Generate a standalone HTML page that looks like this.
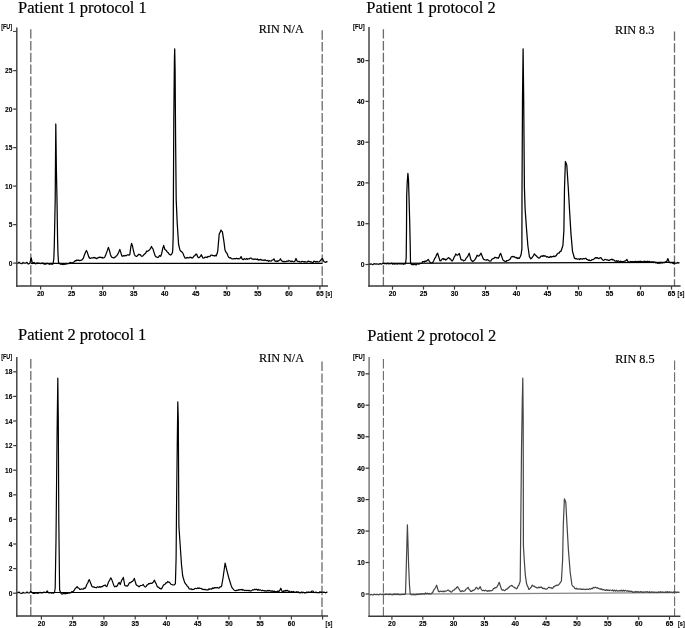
<!DOCTYPE html><html><head><meta charset="utf-8"><style>
html,body{margin:0;padding:0;background:#fff;width:685px;height:628px;overflow:hidden}
svg{display:block;will-change:transform}
.t{font-family:"Liberation Serif",serif;fill:#000;stroke:#000;stroke-width:0.18px}
.l{font-family:"Liberation Sans",sans-serif;font-weight:bold;fill:#000;stroke:#000;stroke-width:0.12px}
</style></head><body>
<svg width="685" height="628" viewBox="0 0 685 628">
<g><text class="t" x="18.1" y="12.6" font-size="16.5" textLength="128.6" lengthAdjust="spacing">Patient 1 protocol 1</text><text class="t" transform="translate(258.7 32.5) scale(1 1.06)" font-size="12.2">RIN N/A</text><line x1="30.8" y1="29.2" x2="30.8" y2="286" stroke="#6a6a6a" stroke-width="1.3" stroke-dasharray="9.4 2.4"/><line x1="322.2" y1="30.3" x2="322.2" y2="286" stroke="#6a6a6a" stroke-width="1.3" stroke-dasharray="9.4 2.4"/><line x1="30.8" y1="263.4" x2="322.2" y2="263.4" stroke="#000" stroke-width="1.15"/><polyline points="17,263.5 18,263.2 19,262.2 20,263.2 21,263.5 22,263.5 23,262.5 24,263.2 25,263.2 26,263.1 27,262.3 28,263.8 29,263.8 30,263 30.8,259 31.3,258 31.8,261 32.5,263.5 33.2,263.2 34,262.5 34.8,263.5 35.5,263.8 36.2,263.7 37,262.8 38,263.5 39,263.1 40,263.5 41,263.6 42,263 43,263 44,264 45,264 46,264 47,263.2 48,263.8 49,264 50,264.3 51,263.5 52,264.3 53,264 53.8,259 54.3,245 55.2,200 55.8,124 56.4,170 57,200 57.6,240 58,254 58.5,262 59.3,263.6 60,263.6 60.8,264.3 61.5,263.8 62.3,264.5 63.2,264.6 64,264 64.9,264.4 65.8,263.9 66.7,264 67.6,263.5 68.5,263.6 69.3,263.3 70.2,262.4 71,262.8 71.7,262.9 72.6,262.9 73.4,262.2 74.3,261.8 75.2,260.7 76.1,260.8 76.9,260 77.8,260.4 78.7,260.1 79.7,260.7 80.7,260.4 81.6,260.2 82.5,259.3 83.4,258.1 84.2,255.5 85.4,252.6 86.4,250.5 87.4,252.6 88.6,256.4 89.5,258.1 90.5,258.4 91.5,257.8 92.4,258 93.3,257.5 94.1,258 94.8,257.4 95.6,258.1 96.5,258.6 97.4,258.1 98.8,257.4 100,257.1 101,257.7 102,257.3 102.8,258 103.5,257.8 104.2,257.6 104.9,256.8 105.9,254.4 107.2,250.9 108.4,247.4 109.4,250.4 110.4,254.4 111.4,256.8 112.2,257.5 112.9,257.6 113.7,257.9 114.4,257.6 115.2,257.1 115.9,256.3 116.8,255.8 117.6,254.4 118.8,251.9 119.8,249.4 120.8,252.4 121.8,255.9 122.6,256.3 123.8,255.6 124.8,255.8 125.8,255.4 126.5,255.6 127.3,254.9 128,254.9 128.9,255.1 129.8,254.6 130.8,247.2 131.6,243.4 132.6,246.5 133.3,250 134.3,254.2 135.2,255.8 136.1,256.3 136.8,256.4 137.5,255.6 138.2,255.1 138.9,254.2 139.6,254.6 140.3,254.6 141.2,256 142,256.3 142.9,255.9 143.8,254.8 145.2,253.5 145.9,252.8 146.6,251.1 147.4,251.3 148.3,250.9 149.7,249.7 150.6,248.3 151.5,246.5 152.2,248 152.9,248.6 153.9,252.1 155,255.3 155.8,256.6 156.7,257 157.4,257.5 158.1,257.4 158.8,256.7 159.5,255.6 160.6,256.3 161.6,253.9 162.7,248.6 163.7,245.5 164.8,249.3 166.2,250.4 167.2,251.9 168.3,252.8 169.2,254.2 170,254.6 170.7,255 171.4,254.4 172.5,252.5 172.8,248.6 173.2,236 173.8,120 174.4,60 174.7,48.8 175.1,70 175.6,140 176.2,200 177.2,223 178.6,244.5 180,250.2 181,251.4 181.9,251.9 182.9,253.1 183.9,255.8 185,258.1 186,258.2 187,257.4 188,257.8 188.9,257.9 189.9,257.2 190.8,257.4 192.2,258.1 193.1,257.4 194,256 194.9,255.6 195.7,254.3 196.6,254.1 197.3,255.9 198,257.3 198.7,257.8 199.4,257.4 200.4,256.3 201.4,254.7 202.2,256.7 203.1,258.1 204.1,258 205,257.2 206,257.2 207,257.5 208,256.3 209,256.6 210,256.4 210.9,255.1 211.9,255.1 212.9,255.6 214,255.6 214.8,256 215.5,255.3 216.3,255.9 217.7,251.5 219.2,234 220.1,232.4 221,230 221.7,231.1 222.4,231.8 223.9,241.3 225,250 226.1,252.4 227.2,253.7 227.9,255.7 228.7,257.3 229.6,257.9 230.5,257.6 231.4,258.7 232.3,258.8 233.2,259 234.1,258.5 235,258.6 235.8,258.8 236.6,258.2 237.4,258.8 238.2,258.5 239.1,258.9 240,258.5 241.1,256.6 241.8,258.4 242.6,259.5 243.4,259.7 244.2,258.6 245,259 245.8,259.3 246.7,258.5 247.6,259.3 248.4,258.8 249.4,258.8 250.3,258.1 251.3,258.1 252.2,259.1 253,259 253.9,259.5 254.8,258.9 255.7,259.2 256.5,259.5 257.4,259 258.2,260 259,259.6 260,259.9 261,259.3 262,260.4 263,260 264,260.5 265,259.9 266,260.3 266.9,260.6 267.7,260.4 268.6,261.3 269.4,260.6 270.3,261 271.2,261.1 272.1,260.1 273,260 273.9,258.8 275,261 275.9,261.6 276.7,260.9 277.6,261.4 279,260.5 279.8,259.9 280.5,258.8 281.2,260.1 282,261 283,261.7 283.9,261.3 284.9,261.7 285.9,261.6 287,261 288,261.4 289,260.5 290,261 291,261.6 292,261.1 293,261.5 294,261.8 295,261 296,258.5 297,261 298,261.5 299,261.4 300,261.8 301,262 302,261.3 303,261.5 304,261.9 305,261.6 306,262 307,262.1 308,261.1 309,261.3 310,261.8 311,261.7 312,262.3 313,262.5 314,261.2 315,261.5 316,262.1 317,261.4 318,262 319,261.9 320,261 320.8,260.2 321.5,259 322.5,258.5 323.5,261 324.2,261.8 325,262.2 325.8,262.3 326.7,261.6 327.5,262" fill="none" stroke="#000" stroke-width="1.25" stroke-linejoin="round"/><path d="M16.8 27.5V286.7" fill="none" stroke="#3a3a3a" stroke-width="1.4"/><path d="M16.1 286H328" fill="none" stroke="#3a3a3a" stroke-width="1.4"/><line x1="13.2" y1="263.1" x2="16.8" y2="263.1" stroke="#3a3a3a" stroke-width="1.25"/><text class="l" x="12.4" y="265.7" font-size="6.6" text-anchor="end">0</text><line x1="13.2" y1="224.6" x2="16.8" y2="224.6" stroke="#3a3a3a" stroke-width="1.25"/><text class="l" x="12.4" y="227.2" font-size="6.6" text-anchor="end">5</text><line x1="13.2" y1="186.1" x2="16.8" y2="186.1" stroke="#3a3a3a" stroke-width="1.25"/><text class="l" x="12.4" y="188.7" font-size="6.6" text-anchor="end">10</text><line x1="13.2" y1="147.6" x2="16.8" y2="147.6" stroke="#3a3a3a" stroke-width="1.25"/><text class="l" x="12.4" y="150.2" font-size="6.6" text-anchor="end">15</text><line x1="13.2" y1="109.1" x2="16.8" y2="109.1" stroke="#3a3a3a" stroke-width="1.25"/><text class="l" x="12.4" y="111.7" font-size="6.6" text-anchor="end">20</text><line x1="13.2" y1="70.6" x2="16.8" y2="70.6" stroke="#3a3a3a" stroke-width="1.25"/><text class="l" x="12.4" y="73.2" font-size="6.6" text-anchor="end">25</text><line x1="13" y1="31.4" x2="16.8" y2="31.4" stroke="#3a3a3a" stroke-width="1"/><text class="l" x="1.2" y="28.5" font-size="7" textLength="10.8" lengthAdjust="spacingAndGlyphs">[FU]</text><line x1="40.6" y1="286" x2="40.6" y2="289.6" stroke="#3a3a3a" stroke-width="1.2"/><line x1="71.6" y1="286" x2="71.6" y2="289.6" stroke="#3a3a3a" stroke-width="1.2"/><line x1="102.7" y1="286" x2="102.7" y2="289.6" stroke="#3a3a3a" stroke-width="1.2"/><line x1="133.7" y1="286" x2="133.7" y2="289.6" stroke="#3a3a3a" stroke-width="1.2"/><line x1="164.7" y1="286" x2="164.7" y2="289.6" stroke="#3a3a3a" stroke-width="1.2"/><line x1="195.8" y1="286" x2="195.8" y2="289.6" stroke="#3a3a3a" stroke-width="1.2"/><line x1="226.8" y1="286" x2="226.8" y2="289.6" stroke="#3a3a3a" stroke-width="1.2"/><line x1="257.8" y1="286" x2="257.8" y2="289.6" stroke="#3a3a3a" stroke-width="1.2"/><line x1="288.9" y1="286" x2="288.9" y2="289.6" stroke="#3a3a3a" stroke-width="1.2"/><line x1="319.9" y1="286" x2="319.9" y2="289.6" stroke="#3a3a3a" stroke-width="1.2"/><text class="l" x="40.6" y="296" font-size="6.6" text-anchor="middle">20</text><text class="l" x="71.6" y="296" font-size="6.6" text-anchor="middle">25</text><text class="l" x="102.7" y="296" font-size="6.6" text-anchor="middle">30</text><text class="l" x="133.7" y="296" font-size="6.6" text-anchor="middle">35</text><text class="l" x="164.7" y="296" font-size="6.6" text-anchor="middle">40</text><text class="l" x="195.8" y="296" font-size="6.6" text-anchor="middle">45</text><text class="l" x="226.8" y="296" font-size="6.6" text-anchor="middle">50</text><text class="l" x="257.8" y="296" font-size="6.6" text-anchor="middle">55</text><text class="l" x="288.9" y="296" font-size="6.6" text-anchor="middle">60</text><text class="l" x="319.9" y="296" font-size="6.6" text-anchor="middle">65</text><text class="l" x="325.4" y="296.2" font-size="7" font-weight="normal" textLength="6.8" lengthAdjust="spacingAndGlyphs">[s]</text></g>
<g><text class="t" x="366.3" y="12.6" font-size="16.5" textLength="129.5" lengthAdjust="spacing">Patient 1 protocol 2</text><text class="t" transform="translate(615 34) scale(1 1.07)" font-size="12.2">RIN 8.3</text><line x1="383.4" y1="29.2" x2="383.4" y2="286" stroke="#6a6a6a" stroke-width="1.3" stroke-dasharray="9.4 2.4"/><line x1="674.5" y1="31.4" x2="674.5" y2="286" stroke="#6a6a6a" stroke-width="1.3" stroke-dasharray="9.4 2.4"/><line x1="383.4" y1="263.3" x2="674.5" y2="262.4" stroke="#000" stroke-width="1.15"/><polyline points="369,264 370,264.4 371,263.8 372,264.3 373,264.7 374,263.6 375,263.8 376,264.3 377,263.7 378,264.2 379,264.3 380,263.6 381,263.9 381.8,264.1 382.7,263.1 383.5,263.4 384.3,263.7 385.2,263.3 386,263.6 387,263.8 388,263.1 389,264 390,263.5 390.8,263.7 391.7,263.1 392.5,264.2 393.3,263.3 394.2,264.2 395,263.8 395.8,264 396.7,263.6 397.5,264.1 398.3,263.5 399.2,263.9 400,263.6 401,264 402,263.7 403,264 403.8,264.3 404.7,263.5 405.5,263.8 406.2,258 406.5,230 406.7,195 407.2,183 407.9,173.4 408.5,180 409.1,200 409.7,222 410.2,245 410.5,262 411.1,264 412.1,264.7 413,264.4 413.8,264.8 414.7,264.1 415.5,264.6 416.3,264.8 417.2,263.8 418,264 418.9,264.2 419.9,263.4 420.8,263.5 421.7,263.4 422.5,261.7 423.4,261.6 424.3,262 425.1,261 426,261.3 427.1,260.6 428.2,259.4 429.3,261.3 430.4,262.7 431.5,263 432.6,262.7 433.7,260.7 434.8,258.3 435.7,257.1 436.7,254.6 437.6,253.2 440,260.9 441,260.6 442.1,259 443.1,258.5 444,259.5 444.8,259 445.7,260 446.7,259.4 447.8,258.2 448.8,257.6 449.7,258.9 450.6,258.9 451.4,260.6 452.3,260.9 453.2,259.5 454.1,257.2 454.9,256.1 455.8,253.9 456.6,255 457.5,255.2 458.4,254.6 459.3,253.5 461,259.6 461.9,260 462.7,259.8 463.5,260.8 464.4,260.5 465.3,259.9 466.1,258.2 467,257.4 468.1,255.6 469.2,253.2 470.9,259.6 471.8,260.8 472.7,261.6 473.8,260.8 474.9,259.6 476,257.9 477.1,255.2 478,255.9 478.8,256.1 479.9,255 481,253.2 483.2,258.7 484.3,259.7 485.4,260 486.3,260.2 487.1,259.6 488,260 489.1,260.8 490.2,261.2 491.1,260.8 491.9,259.3 492.8,258.7 493.9,258.3 495,257.2 496,257.8 497.1,257.7 498.1,258.3 499,257.2 499.8,254.6 500.7,253.5 502.9,259.9 504,260.9 505.1,261.3 506,261.5 506.8,260.5 507.7,260.5 508.5,260.4 509.3,259.6 510.3,259 511.2,257.1 512.2,256.4 513.1,256.9 514.1,256.5 515,257.4 515.9,257.8 516.7,257.5 517.6,258.5 518.4,257.9 519.3,258.4 520.2,256.8 521.1,254.6 521.9,248.8 522,191.5 522.5,100 523.1,48.8 523.7,100 524.4,187.2 525.1,208.7 526.5,228.7 527.9,246 529.4,256.7 530.8,258.9 531.5,258.3 532.2,257.4 533.3,255.8 534.4,253.8 535.5,255.3 536.5,256 537.6,257.3 538.7,258.1 539.7,257.8 540.6,256.4 541.6,256 542.4,256.4 543.2,255.5 544.1,256.4 544.9,255.7 545.7,256.1 546.7,257 547.6,256.7 548.6,257.4 549.5,257.4 550.3,256.4 551.1,257.2 552,256.5 552.8,256.7 553.6,256.1 554.5,256.6 555.3,256.1 556.3,255.7 557.2,253.9 558.2,253.2 559.1,253.1 560.1,251.4 561,251.3 562.9,245.5 563.9,230.3 564.5,188.2 565.4,161.5 566.8,165.3 568.3,188.2 569.6,211.2 571,234.1 572.5,251.3 574.4,258 575.3,258.8 576.1,258.4 577,259.1 577.9,259.2 578.8,258.8 579.6,259.5 580.5,258.6 581.4,258.8 582.4,259.2 583.4,258.5 584.4,258.8 585.8,258.2 586.6,259.3 587.5,259.5 588.4,260.3 589.2,260 590.1,260.7 591.1,260.5 592.2,259.5 593.2,259.5 594.3,258.7 595.4,257.6 596.3,258.1 597.1,257.6 598,258.2 599,258.6 600.1,257.6 601.1,257.9 602,259.2 602.8,260 603.8,260.4 604.9,259.4 605.9,259.5 606.8,260 607.6,259.8 608.5,260.4 609.4,260.4 610.2,259.6 611.1,259.7 612,259.1 612.9,260 613.8,259.8 614.7,260.8 615.6,261.1 616.4,260.7 617.3,261.6 618.1,260.7 619,261.3 619.9,261.8 620.8,261.1 621.6,262 622.5,261.7 623.3,261.8 624.2,261.2 625,261.2 626,260.5 626.9,259.5 627.8,261.3 628.7,262.1 629.6,262.5 630.4,261.4 631.2,262 632.1,261.4 632.9,262 633.8,261.6 634.7,262 635.5,261.3 636.4,262.1 637.3,261.4 638.1,262 639,261.2 639.9,262.1 640.8,261.2 641.6,262 642.5,261.6 643.4,262.1 644.3,261.1 645.1,262 646,261.3 646.9,262.2 647.8,261.2 648.7,262.1 649.5,261.3 650.4,262.3 651.3,261.8 652.2,262.3 653,261.7 653.9,262.6 654.8,262 655.7,262.9 656.5,262.5 657.4,263.3 658.3,263 659.2,263.5 660,262.3 660.9,263.2 661.8,262.4 662.6,263 663.5,262.5 664.5,262.7 665.5,261.8 666.5,262 667.9,258.6 669.2,262.1 670.2,262.9 671.3,262.5 672.3,263 673.2,263.5 674,262.8 674.9,263.4 675.8,263 676.7,263.2 677.6,262.5 678.6,263.1 679.5,262.5" fill="none" stroke="#000" stroke-width="1.25" stroke-linejoin="round"/><path d="M369 27V286.7" fill="none" stroke="#3a3a3a" stroke-width="1.4"/><path d="M368.3 286H680.6" fill="none" stroke="#3a3a3a" stroke-width="1.4"/><line x1="365.4" y1="264.5" x2="369" y2="264.5" stroke="#3a3a3a" stroke-width="1.25"/><text class="l" x="364.6" y="267.1" font-size="6.8" text-anchor="end">0</text><line x1="365.4" y1="223.7" x2="369" y2="223.7" stroke="#3a3a3a" stroke-width="1.25"/><text class="l" x="364.6" y="226.3" font-size="6.8" text-anchor="end">10</text><line x1="365.4" y1="182.9" x2="369" y2="182.9" stroke="#3a3a3a" stroke-width="1.25"/><text class="l" x="364.6" y="185.5" font-size="6.8" text-anchor="end">20</text><line x1="365.4" y1="142.2" x2="369" y2="142.2" stroke="#3a3a3a" stroke-width="1.25"/><text class="l" x="364.6" y="144.8" font-size="6.8" text-anchor="end">30</text><line x1="365.4" y1="101.4" x2="369" y2="101.4" stroke="#3a3a3a" stroke-width="1.25"/><text class="l" x="364.6" y="104" font-size="6.8" text-anchor="end">40</text><line x1="365.4" y1="60.6" x2="369" y2="60.6" stroke="#3a3a3a" stroke-width="1.25"/><text class="l" x="364.6" y="63.2" font-size="6.8" text-anchor="end">50</text><text class="l" x="353" y="29.3" font-size="7" textLength="11.6" lengthAdjust="spacingAndGlyphs">[FU]</text><line x1="392.5" y1="286" x2="392.5" y2="289.6" stroke="#3a3a3a" stroke-width="1.2"/><line x1="423.5" y1="286" x2="423.5" y2="289.6" stroke="#3a3a3a" stroke-width="1.2"/><line x1="454.5" y1="286" x2="454.5" y2="289.6" stroke="#3a3a3a" stroke-width="1.2"/><line x1="485.5" y1="286" x2="485.5" y2="289.6" stroke="#3a3a3a" stroke-width="1.2"/><line x1="516.5" y1="286" x2="516.5" y2="289.6" stroke="#3a3a3a" stroke-width="1.2"/><line x1="547.5" y1="286" x2="547.5" y2="289.6" stroke="#3a3a3a" stroke-width="1.2"/><line x1="578.5" y1="286" x2="578.5" y2="289.6" stroke="#3a3a3a" stroke-width="1.2"/><line x1="609.5" y1="286" x2="609.5" y2="289.6" stroke="#3a3a3a" stroke-width="1.2"/><line x1="640.5" y1="286" x2="640.5" y2="289.6" stroke="#3a3a3a" stroke-width="1.2"/><line x1="671.5" y1="286" x2="671.5" y2="289.6" stroke="#3a3a3a" stroke-width="1.2"/><text class="l" x="392.5" y="296" font-size="6.8" text-anchor="middle">20</text><text class="l" x="423.5" y="296" font-size="6.8" text-anchor="middle">25</text><text class="l" x="454.5" y="296" font-size="6.8" text-anchor="middle">30</text><text class="l" x="485.5" y="296" font-size="6.8" text-anchor="middle">35</text><text class="l" x="516.5" y="296" font-size="6.8" text-anchor="middle">40</text><text class="l" x="547.5" y="296" font-size="6.8" text-anchor="middle">45</text><text class="l" x="578.5" y="296" font-size="6.8" text-anchor="middle">50</text><text class="l" x="609.5" y="296" font-size="6.8" text-anchor="middle">55</text><text class="l" x="640.5" y="296" font-size="6.8" text-anchor="middle">60</text><text class="l" x="671.5" y="296" font-size="6.8" text-anchor="middle">65</text><text class="l" x="677.6" y="296.2" font-size="7" font-weight="normal" textLength="6.8" lengthAdjust="spacingAndGlyphs">[s]</text></g>
<g><text class="t" x="18.1" y="340.3" font-size="16.5" textLength="128.2" lengthAdjust="spacing">Patient 2 protocol 1</text><text class="t" transform="translate(259 362.2) scale(1 1.06)" font-size="12.2">RIN N/A</text><line x1="30.8" y1="359.1" x2="30.8" y2="616" stroke="#6a6a6a" stroke-width="1.3" stroke-dasharray="9.4 2.4"/><line x1="322" y1="361.6" x2="322" y2="616" stroke="#6a6a6a" stroke-width="1.3" stroke-dasharray="9.4 2.4"/><line x1="30.8" y1="592.5" x2="322" y2="592.5" stroke="#000" stroke-width="1.15"/><polyline points="17,592.8 18,592.7 19,592 20,593 21,593.3 22,593.3 23,592.3 24,593 25,593 26,592.9 27,592 28,592.9 29,593 29.9,592.4 30.7,591.4 32,592.5 33,593.3 34,593.3 35,593.3 36,592.5 37,593.4 38,593.3 39,593 40,592.3 41,592.9 42,593 43,592.7 44,592 45,592.6 46,592.3 47.3,591 48.1,592.4 49,593 50,592.9 51,592.5 51.8,593.2 52.6,592.8 53.5,593.2 54.5,592.5 55.2,588 56,540 57,440 57.8,378 58.3,420 58.8,520 59.6,590 60.5,592.3 61.3,593.7 62.2,594.1 63.1,593.4 64.1,593.7 65,593.5 65.8,593.8 66.7,593.1 67.5,593.4 68.4,592.8 69.2,593.1 70.1,592.8 71,592.7 71.8,591.6 72.7,591.9 73.6,591 74.5,589.9 75.5,588 76.3,587.7 77.1,586.6 78,587.9 78.8,588 79.7,589.3 80.5,589.5 81.2,588.8 82,589 83,589.3 84,588.1 85,588.4 86,586.7 87,584 87.8,583 88.5,580.8 89.3,579.6 91,584 92,586.6 92.9,587.1 93.8,586.8 94.6,587.5 95.5,587.5 96.3,587.8 97.2,586.8 98,587 98.9,587.4 99.8,586.5 100.7,587.2 101.6,586.6 102.5,586.7 103.3,585.6 104.2,585.6 105.1,584.9 106,586.3 106.9,586.6 108.5,582 109.6,580.3 110.7,577.9 111.5,578.9 114.1,586.1 114.9,586.8 115.8,586.1 116.6,586.6 117.5,585.4 118.3,583.5 119.2,582.5 120.2,584.5 121.8,579.9 122.5,579.1 123.3,577.4 124.8,585.5 125.7,586 126.5,585.7 127.4,586.1 128.2,585.2 129.1,583.2 129.9,582.5 130.8,582.6 131.6,581.6 132.5,581.5 133.4,580.2 134.3,578.4 136.1,584.5 136.9,585.4 137.8,585.7 138.6,586.6 139.4,586.7 140.2,585.6 141,585.5 142.1,585.4 143.2,584.5 144.2,586.1 145.3,587.1 146.2,586.4 147.1,584.9 147.9,584.6 148.8,583.5 149.7,583.8 150.6,583 151.5,583.5 152.4,583 153.4,581.8 154.5,580.2 155.3,582.4 156.2,583.6 157,586.1 157.8,587.2 158.6,587 159.5,588.4 160.3,588.3 161.1,589.1 162.1,587.9 163.2,585.5 164.2,584.5 165.1,584.2 165.9,582.8 166.8,582.8 167.7,581.5 168.5,582.2 169.2,582.2 170,583 170.9,584.2 171.8,584.5 172.8,585 173.8,585 174.6,584.6 175.4,583.7 176.1,558.2 176.6,500 177.3,440 177.8,401.8 178.3,420 178.9,526.4 180.2,545.5 181.5,564.6 182.7,576 184.6,582.4 185.6,583.9 186.6,585 187.4,586.5 188.3,587.1 189.1,588.8 190.1,589.2 191,588.7 191.9,589.6 192.9,589.4 193.9,589.4 195,588.3 196,588.5 196.8,588.7 197.7,587.8 198.5,588.5 199.3,587.9 200.2,588.5 201.2,588.3 202.2,589.4 203.1,589.2 204.1,589.8 205,589.2 205.9,589.9 206.9,589.8 207.9,590 208.9,588.8 209.8,589.3 210.8,588.8 211.7,589.1 212.5,587.9 213.4,588.5 214.2,587.6 215.1,587.9 215.9,587.5 216.7,587.9 217.6,587.4 218.4,588.2 219.2,588 220,586.8 220.8,587 221.6,586.2 223.1,577.5 225.1,563 226.6,569.3 228.7,577.5 231.2,585.7 232.2,587.9 233.3,589.2 234.3,590.3 235.3,590.6 236.2,590.7 237,590 237.9,590.5 238.7,589.7 239.6,589.9 240.4,589.5 241.2,590 242.1,589.3 242.9,590.3 243.8,589.8 244.7,590.7 245.5,590.3 246.4,590.6 247.2,590.3 248.1,590.8 249,590.3 249.8,590.9 250.7,590.8 251.7,590.6 252.7,589.7 253.7,590 254.7,589.2 255.6,589.6 256.5,589.2 257.4,590.2 258.2,589.3 259.1,590.4 260,589.7 260.9,590.3 261.8,590.8 262.6,590.2 263.4,590.7 264.3,590.5 265.1,591.2 266,590.8 266.9,591.2 267.7,590.3 268.6,591 269.4,590.4 270.2,591.2 271.1,590.8 272,591.4 272.8,590.8 273.6,591.7 274.5,591.1 275.4,591.8 276.2,591.6 277,591.9 277.9,590.8 278.7,591.6 279.5,591 280.8,588.2 281.6,590.3 282.3,591.6 283.1,591.9 284,590.6 284.9,591.3 285.7,590.3 286.5,591 287.4,590.3 288.3,591.3 289.1,591 290,591.8 290.8,592.3 291.7,591.4 292.5,592.3 293.3,591.5 294.2,592.3 295,592 295.8,592.4 296.7,591.7 297.5,592.3 298.3,591.8 299.2,592.8 300,592.3 300.8,592.9 301.7,592 302.5,592.8 303.3,592.1 304.2,592.9 305,592.6 305.8,592.9 306.7,592 307.5,592.6 308.3,591.9 309.2,592.4 310,592.2 311,592.2 312,591 313,591 314,592.3 315,592.6 316,592 317,592.8 318,592.5 319,592.8 320,591.7 321,592.4 322,592 323,592.3 324,592.1 325,592.5 325.8,592.9 326.6,592.1 327.4,592.3" fill="none" stroke="#000" stroke-width="1.2" stroke-linejoin="round"/><path d="M16.8 357.1V616.7" fill="none" stroke="#3a3a3a" stroke-width="1.4"/><path d="M16.1 616H328" fill="none" stroke="#3a3a3a" stroke-width="1.4"/><line x1="13.2" y1="593.2" x2="16.8" y2="593.2" stroke="#3a3a3a" stroke-width="1.25"/><text class="l" x="12.4" y="595.8" font-size="6.6" text-anchor="end">0</text><line x1="13.2" y1="568.6" x2="16.8" y2="568.6" stroke="#3a3a3a" stroke-width="1.25"/><text class="l" x="12.4" y="571.2" font-size="6.6" text-anchor="end">2</text><line x1="13.2" y1="544" x2="16.8" y2="544" stroke="#3a3a3a" stroke-width="1.25"/><text class="l" x="12.4" y="546.6" font-size="6.6" text-anchor="end">4</text><line x1="13.2" y1="519.4" x2="16.8" y2="519.4" stroke="#3a3a3a" stroke-width="1.25"/><text class="l" x="12.4" y="522" font-size="6.6" text-anchor="end">6</text><line x1="13.2" y1="494.8" x2="16.8" y2="494.8" stroke="#3a3a3a" stroke-width="1.25"/><text class="l" x="12.4" y="497.4" font-size="6.6" text-anchor="end">8</text><line x1="13.2" y1="470.2" x2="16.8" y2="470.2" stroke="#3a3a3a" stroke-width="1.25"/><text class="l" x="12.4" y="472.8" font-size="6.6" text-anchor="end">10</text><line x1="13.2" y1="445.6" x2="16.8" y2="445.6" stroke="#3a3a3a" stroke-width="1.25"/><text class="l" x="12.4" y="448.2" font-size="6.6" text-anchor="end">12</text><line x1="13.2" y1="421" x2="16.8" y2="421" stroke="#3a3a3a" stroke-width="1.25"/><text class="l" x="12.4" y="423.6" font-size="6.6" text-anchor="end">14</text><line x1="13.2" y1="396.4" x2="16.8" y2="396.4" stroke="#3a3a3a" stroke-width="1.25"/><text class="l" x="12.4" y="399" font-size="6.6" text-anchor="end">16</text><line x1="13.2" y1="371.8" x2="16.8" y2="371.8" stroke="#3a3a3a" stroke-width="1.25"/><text class="l" x="12.4" y="374.4" font-size="6.6" text-anchor="end">18</text><text class="l" x="1.2" y="358.8" font-size="7" textLength="10.8" lengthAdjust="spacingAndGlyphs">[FU]</text><line x1="41.4" y1="616" x2="41.4" y2="619.6" stroke="#3a3a3a" stroke-width="1.2"/><line x1="72.7" y1="616" x2="72.7" y2="619.6" stroke="#3a3a3a" stroke-width="1.2"/><line x1="103.9" y1="616" x2="103.9" y2="619.6" stroke="#3a3a3a" stroke-width="1.2"/><line x1="135.2" y1="616" x2="135.2" y2="619.6" stroke="#3a3a3a" stroke-width="1.2"/><line x1="166.4" y1="616" x2="166.4" y2="619.6" stroke="#3a3a3a" stroke-width="1.2"/><line x1="197.7" y1="616" x2="197.7" y2="619.6" stroke="#3a3a3a" stroke-width="1.2"/><line x1="228.9" y1="616" x2="228.9" y2="619.6" stroke="#3a3a3a" stroke-width="1.2"/><line x1="260.1" y1="616" x2="260.1" y2="619.6" stroke="#3a3a3a" stroke-width="1.2"/><line x1="291.4" y1="616" x2="291.4" y2="619.6" stroke="#3a3a3a" stroke-width="1.2"/><line x1="322.6" y1="616" x2="322.6" y2="619.6" stroke="#3a3a3a" stroke-width="1.2"/><text class="l" x="41.4" y="626" font-size="6.6" text-anchor="middle">20</text><text class="l" x="72.7" y="626" font-size="6.6" text-anchor="middle">25</text><text class="l" x="103.9" y="626" font-size="6.6" text-anchor="middle">30</text><text class="l" x="135.2" y="626" font-size="6.6" text-anchor="middle">35</text><text class="l" x="166.4" y="626" font-size="6.6" text-anchor="middle">40</text><text class="l" x="197.7" y="626" font-size="6.6" text-anchor="middle">45</text><text class="l" x="228.9" y="626" font-size="6.6" text-anchor="middle">50</text><text class="l" x="260.1" y="626" font-size="6.6" text-anchor="middle">55</text><text class="l" x="291.4" y="626" font-size="6.6" text-anchor="middle">60</text><text class="l" x="325.6" y="626.2" font-size="7" font-weight="normal" textLength="6.8" lengthAdjust="spacingAndGlyphs">[s]</text></g>
<g><text class="t" x="367.3" y="340.6" font-size="16.5" textLength="129" lengthAdjust="spacing">Patient 2 protocol 2</text><text class="t" transform="translate(615.2 362.7) scale(1 1.08)" font-size="12.2">RIN 8.5</text><line x1="383.4" y1="359.1" x2="383.4" y2="616.2" stroke="#6a6a6a" stroke-width="1.1" stroke-dasharray="9.4 2.4"/><line x1="674.6" y1="360.5" x2="674.6" y2="616.2" stroke="#6a6a6a" stroke-width="1.1" stroke-dasharray="9.4 2.4"/><line x1="383.4" y1="594.2" x2="674.6" y2="592.7" stroke="#858585" stroke-width="1.25"/><polyline points="369.5,594.5 370.3,594.9 371.2,594.3 372,594.8 373,595.2 374,594.1 375,594.3 376,594.8 377,594.2 378,594.7 379,594.8 380,594 381,594.2 382,594.7 383,593.9 384,594.5 385,594.7 386,594.1 387,594.5 388,594.3 389,594.8 390,594 391,594.6 392,594.5 393,594.9 394,593.8 395,594.6 396,594.1 397,594.6 398,594.1 399,594.6 400,594.5 401,594.8 402,594.2 403,594.6 404,594.3 404.8,594.4 405.5,594 406.2,570 407,540 407.4,524.8 407.9,540 408.6,565 409.5,585 410.2,594 411.2,594.6 412.1,594.8 413.1,594.2 414.1,594.9 415,594.5 416,594.9 417,593.9 418,594.6 419,594.1 419.9,594.4 420.8,593.6 421.7,594.3 422.6,593.6 423.5,593.8 424.5,594.2 425.5,593 426.5,593.8 427.5,593.2 428.3,593.9 429.2,593.4 430,594 431,593.8 432,593.1 432.9,592 433.7,590.1 434.6,588.9 435.6,587.5 436.6,585.2 438.5,591.5 439.4,591.8 440.3,591 441.2,591.5 442.1,591.7 443,590.8 444,591.8 444.9,591 445.8,591.1 446.7,591 447.5,590 448.4,590.2 449.3,591.2 450.1,591 451,592.2 452,591.7 453,590.4 454,590.1 455,588.9 455.9,588.6 456.7,587.2 457.6,586.7 458.5,588.4 459.3,589.3 460.2,591.1 461.2,591.6 462.2,590.6 463.2,591.3 464.2,591.1 465.2,590.4 466.1,589 467.1,588.4 468.1,587.3 469,589.2 469.8,589.9 470.7,591.5 471.5,591.5 472.4,590.4 473.2,590.6 474,590 474.9,589.5 475.7,588 476.6,587.3 478,589.2 479.1,588.4 480.2,586.7 481,588.7 481.9,590.2 482.8,590.7 483.7,590.2 484.7,590.9 485.6,590.2 486.5,590.9 487.4,591.3 488.3,590.5 489.1,591.2 490,590.4 490.9,590.9 491.8,590.5 492.6,590.3 493.4,588.6 494.2,588.5 495,587.6 496,587.8 497,586.9 498.1,584.8 499.2,582.3 501.6,589.6 502.5,590.2 503.3,589.8 504.2,590.6 505.1,590.4 506,589.4 506.9,589.2 507.7,588.6 508.5,587.4 509.3,587.2 510.1,586 511,585.9 511.9,585.3 512.8,586.5 513.8,587 514.7,587.9 515.5,587.9 516.4,588.9 517.2,588.2 518.1,586 518.9,585.1 520.2,581.2 520.6,541.7 521.5,450 522.3,400 522.8,378 523.2,420 523.4,545.5 524.3,560.8 525.3,574.8 526.6,583.8 527.4,586.1 528.1,587.1 528.9,589.5 529.6,589.1 530.4,588.2 531.3,586.9 532.3,585.1 533.2,586.1 534.2,586.1 535.1,587.2 535.9,587.1 536.8,588 537.6,588 538.4,587.1 539.2,587.8 540,587 540.8,587.5 541.6,587.1 542.4,588.4 543.2,588.2 544,588.8 544.8,588.3 545.6,589.1 546.4,589.1 547.4,588.7 548.5,587.4 549.5,587.3 550.4,588 551.2,587.7 552.1,588.6 552.9,588.1 553.7,586.6 554.5,586.7 555.3,585.6 556.2,585.7 557,584.9 557.9,585.4 558.8,584.7 559.7,583.7 560.5,582.1 561.4,581.2 562.6,560.2 563.3,525.1 564.4,498.8 565.8,502.3 567,525.1 568.4,549.6 570.2,572.5 571.9,584.7 572.8,586.2 573.7,586.5 574.6,588.2 575.5,588.8 576.3,588.2 577.1,589.2 578,588.8 578.9,589.1 579.8,588.8 580.7,589.3 581.6,589.1 582.5,589.5 583.3,589 584.1,589.5 585,589.3 585.9,589.6 586.8,589 587.7,589.4 588.7,589.4 589.6,588.6 590.5,589.2 591.5,588.4 592.5,588.6 593.4,587.3 594.3,587.9 595.3,587.1 596.3,587.9 597.4,587.7 598.4,588.4 599.3,588.8 600.1,588.7 601,589.6 601.9,588.8 602.8,590 603.6,589.5 604.5,589.9 605.4,590.4 606.4,589.7 607.3,590.5 608.2,589.8 609.1,590.7 610.1,590 611,590.3 611.9,590.7 612.8,590 613.7,591 614.6,590.1 615.6,591 616.5,590.1 617.4,591.2 618.3,590.7 619.2,591 620,590.3 620.9,591.2 621.7,590.2 622.6,591 623.4,590.2 624.3,591.2 625.1,590.3 626,590.7 627,591.3 627.9,590.7 628.9,591.5 629.8,590.9 630.8,591.6 631.7,591.2 632.6,592.3 633.6,591.9 634.5,592.4 635.3,591.5 636.2,592.2 637,591.5 637.9,592.3 638.7,591.6 639.6,592.4 640.4,591.7 641.3,591.9 642.3,592.4 643.2,591.8 644.2,592.4 645.1,591.7 646.1,592.3 647,591.6 648,592.1 648.9,592.5 649.7,591.7 650.6,592.6 651.4,591.9 652.3,592.3 653.2,591.9 654,592.6 654.9,591.9 655.7,592.4 656.6,592.2 657.5,592.7 658.5,591.8 659.4,592.5 660.3,591.7 661.2,592.5 662.1,591.8 663.1,592.4 664,592.2 664.9,592.5 665.8,591.7 666.7,592.7 667.6,591.7 668.4,592.5 669.3,591.8 670.2,592.5 671.1,592 672,592.2 673,592.6 673.9,591.7 674.9,592.7 675.8,591.8 676.8,592.7 677.7,591.9 678.6,592.4 679.6,592.2" fill="none" stroke="#444" stroke-width="1.2" stroke-linejoin="round"/><path d="M369.1 357.1V616.9" fill="none" stroke="#707070" stroke-width="1.4"/><path d="M368.4 616.2H680.4" fill="none" stroke="#3a3a3a" stroke-width="1.4"/><line x1="365.5" y1="594" x2="369.1" y2="594" stroke="#3a3a3a" stroke-width="1.25"/><text class="l" x="364.7" y="596.6" font-size="6.8" text-anchor="end">0</text><line x1="365.5" y1="562.5" x2="369.1" y2="562.5" stroke="#3a3a3a" stroke-width="1.25"/><text class="l" x="364.7" y="565.1" font-size="6.8" text-anchor="end">10</text><line x1="365.5" y1="531.1" x2="369.1" y2="531.1" stroke="#3a3a3a" stroke-width="1.25"/><text class="l" x="364.7" y="533.7" font-size="6.8" text-anchor="end">20</text><line x1="365.5" y1="499.6" x2="369.1" y2="499.6" stroke="#3a3a3a" stroke-width="1.25"/><text class="l" x="364.7" y="502.2" font-size="6.8" text-anchor="end">30</text><line x1="365.5" y1="468.2" x2="369.1" y2="468.2" stroke="#3a3a3a" stroke-width="1.25"/><text class="l" x="364.7" y="470.8" font-size="6.8" text-anchor="end">40</text><line x1="365.5" y1="436.7" x2="369.1" y2="436.7" stroke="#3a3a3a" stroke-width="1.25"/><text class="l" x="364.7" y="439.3" font-size="6.8" text-anchor="end">50</text><line x1="365.5" y1="405.2" x2="369.1" y2="405.2" stroke="#3a3a3a" stroke-width="1.25"/><text class="l" x="364.7" y="407.8" font-size="6.8" text-anchor="end">60</text><line x1="365.5" y1="373.8" x2="369.1" y2="373.8" stroke="#3a3a3a" stroke-width="1.25"/><text class="l" x="364.7" y="376.4" font-size="6.8" text-anchor="end">70</text><text class="l" x="353.1" y="359.2" font-size="7" textLength="11.6" lengthAdjust="spacingAndGlyphs">[FU]</text><line x1="391.9" y1="616.2" x2="391.9" y2="619.8" stroke="#3a3a3a" stroke-width="1.2"/><line x1="422.8" y1="616.2" x2="422.8" y2="619.8" stroke="#3a3a3a" stroke-width="1.2"/><line x1="453.6" y1="616.2" x2="453.6" y2="619.8" stroke="#3a3a3a" stroke-width="1.2"/><line x1="484.4" y1="616.2" x2="484.4" y2="619.8" stroke="#3a3a3a" stroke-width="1.2"/><line x1="515.3" y1="616.2" x2="515.3" y2="619.8" stroke="#3a3a3a" stroke-width="1.2"/><line x1="546.1" y1="616.2" x2="546.1" y2="619.8" stroke="#3a3a3a" stroke-width="1.2"/><line x1="577" y1="616.2" x2="577" y2="619.8" stroke="#3a3a3a" stroke-width="1.2"/><line x1="607.8" y1="616.2" x2="607.8" y2="619.8" stroke="#3a3a3a" stroke-width="1.2"/><line x1="638.7" y1="616.2" x2="638.7" y2="619.8" stroke="#3a3a3a" stroke-width="1.2"/><line x1="669.5" y1="616.2" x2="669.5" y2="619.8" stroke="#3a3a3a" stroke-width="1.2"/><text class="l" x="391.9" y="626.2" font-size="6.8" text-anchor="middle">20</text><text class="l" x="422.8" y="626.2" font-size="6.8" text-anchor="middle">25</text><text class="l" x="453.6" y="626.2" font-size="6.8" text-anchor="middle">30</text><text class="l" x="484.4" y="626.2" font-size="6.8" text-anchor="middle">35</text><text class="l" x="515.3" y="626.2" font-size="6.8" text-anchor="middle">40</text><text class="l" x="546.1" y="626.2" font-size="6.8" text-anchor="middle">45</text><text class="l" x="577" y="626.2" font-size="6.8" text-anchor="middle">50</text><text class="l" x="607.8" y="626.2" font-size="6.8" text-anchor="middle">55</text><text class="l" x="638.7" y="626.2" font-size="6.8" text-anchor="middle">60</text><text class="l" x="669.5" y="626.2" font-size="6.8" text-anchor="middle">65</text><text class="l" x="678" y="626.4" font-size="7" font-weight="normal" textLength="6.8" lengthAdjust="spacingAndGlyphs">[s]</text></g>
</svg></body></html>
